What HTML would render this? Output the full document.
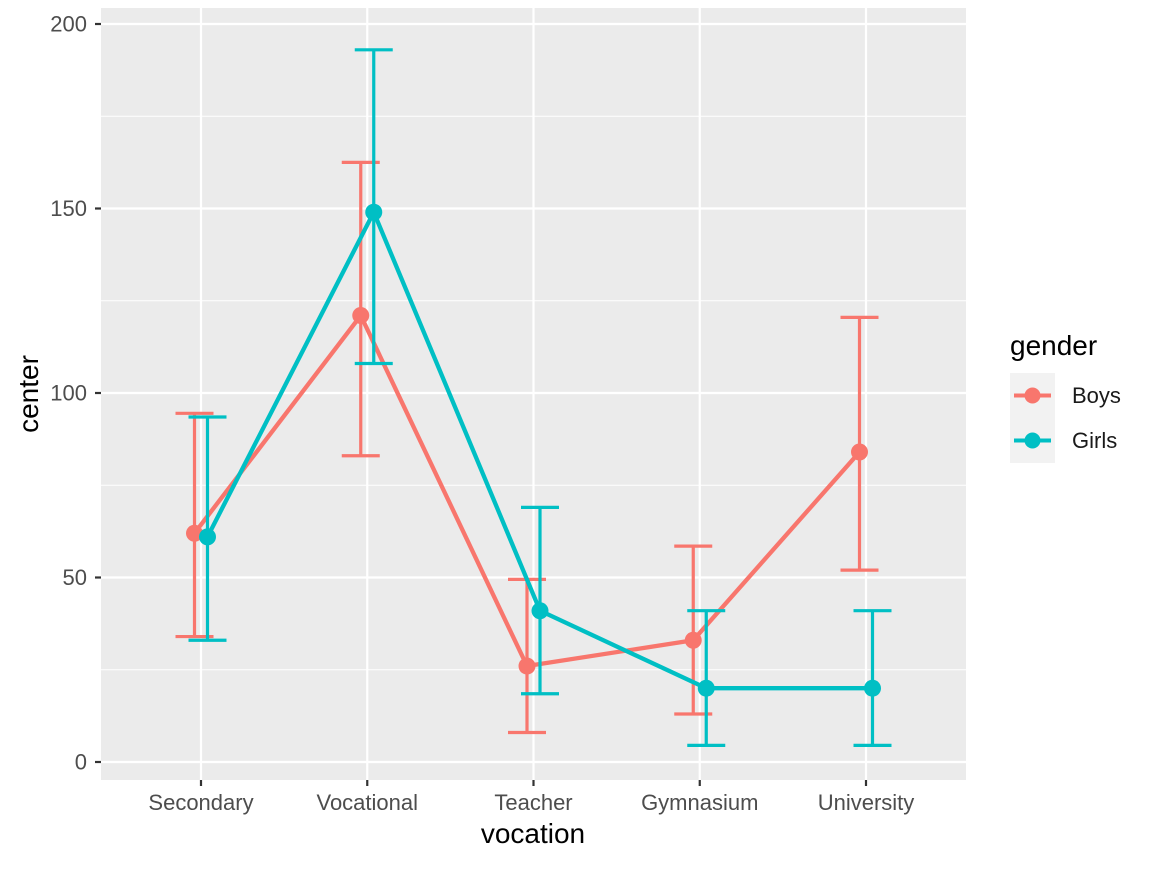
<!DOCTYPE html>
<html><head><meta charset="utf-8"><style>
body{margin:0;background:#fff;font-family:"Liberation Sans",sans-serif}
svg text{font-family:"Liberation Sans",sans-serif}
</style></head><body>
<svg id="chart" width="1152" height="865" xmlns="http://www.w3.org/2000/svg">
<rect x="101" y="8" width="865" height="772" fill="#ebebeb"/>
<g id="grid"></g><g id="marks"></g><g id="axes"></g>
<text x="533" y="843" font-size="28" text-anchor="middle" fill="#000">vocation</text>
<text transform="translate(38,394) rotate(-90)" font-size="28" text-anchor="middle" fill="#000">center</text>
<g>
<text x="1010" y="355" font-size="28" fill="#000">gender</text>
<g>
<rect x="1010" y="373" width="45" height="45" fill="#f2f2f2"/>
<line x1="1014" y1="395.5" x2="1051" y2="395.5" stroke="#F8766D" stroke-width="4"/>
<circle cx="1032.5" cy="395.5" r="8" fill="#F8766D"/>
<text x="1072" y="403" font-size="22" fill="#1a1a1a">Boys</text></g>
<g>
<rect x="1010" y="418" width="45" height="45" fill="#f2f2f2"/>
<line x1="1014" y1="440.5" x2="1051" y2="440.5" stroke="#00BFC4" stroke-width="4"/>
<circle cx="1032.5" cy="440.5" r="8" fill="#00BFC4"/>
<text x="1072" y="448" font-size="22" fill="#1a1a1a">Girls</text></g>
</g>
</svg>
<script>
const categories=["Secondary","Vocational","Teacher","Gymnasium","University"];
const boysCenter=[62,121,26,33,84];
const boysLow=[34,83,8,13,52];
const boysHigh=[94.5,162.5,49.5,58.5,120.5];
const girlsCenter=[61,149,41,20,20];
const girlsLow=[33,108,18.5,4.5,4.5];
const girlsHigh=[93.5,193,69,41,41];
const yTicks=[0,50,100,150,200];
const yMinor=[25,75,125,175];
const NS="http://www.w3.org/2000/svg";
function X(i){return 201+i*166.25;}
function Y(v){return 762-v*3.69;}
function mk(tag,attrs,parent){const e=document.createElementNS(NS,tag);for(const k in attrs)e.setAttribute(k,attrs[k]);parent.appendChild(e);return e;}
const grid=document.getElementById('grid'),marks=document.getElementById('marks'),axes=document.getElementById('axes');
yMinor.forEach(v=>{const l=mk('line',{x1:101,x2:966,y1:Y(v),y2:Y(v),stroke:'#fff','stroke-width':1.1},grid);

});
yTicks.forEach(v=>{const l=mk('line',{x1:101,x2:966,y1:Y(v),y2:Y(v),stroke:'#fff','stroke-width':2.2},grid);


const t=mk('line',{x1:95,x2:101,y1:Y(v),y2:Y(v),stroke:'#333','stroke-width':2.2},axes);


const tx=mk('text',{x:87,y:Y(v)+7.5,'font-size':22,'text-anchor':'end',fill:'#4d4d4d'},axes);tx.textContent=v;

});
categories.forEach((c,i)=>{const l=mk('line',{x1:X(i),x2:X(i),y1:8,y2:780,stroke:'#fff','stroke-width':2.2},grid);


const t=mk('line',{x1:X(i),x2:X(i),y1:780,y2:786,stroke:'#333','stroke-width':2.2},axes);


const tx=mk('text',{x:X(i),y:810,'font-size':22,'text-anchor':'middle',fill:'#4d4d4d'},axes);tx.textContent=c;

});
function series(name,center,low,high,color,off){
  const g=mk('g',{},marks);
  
  
  center.forEach((v,i)=>{const x=X(i)+off;
    const e=mk('path',{d:`M${x-19},${Y(high[i])}H${x+19}M${x},${Y(high[i])}V${Y(low[i])}M${x-19},${Y(low[i])}H${x+19}`,stroke:color,'stroke-width':3.2,fill:'none'},g);
    
    });
  const pl=mk('polyline',{points:center.map((v,i)=>(X(i)+off)+','+Y(v)).join(' '),stroke:color,'stroke-width':4.3,fill:'none'},g);
  
  
  center.forEach((v,i)=>{const c=mk('circle',{cx:X(i)+off,cy:Y(v),r:8.5,fill:color},g);
    
    });
}
series('boys',boysCenter,boysLow,boysHigh,'#F8766D',-6.5);
series('girls',girlsCenter,girlsLow,girlsHigh,'#00BFC4',6.5);
</script>
</body></html>
